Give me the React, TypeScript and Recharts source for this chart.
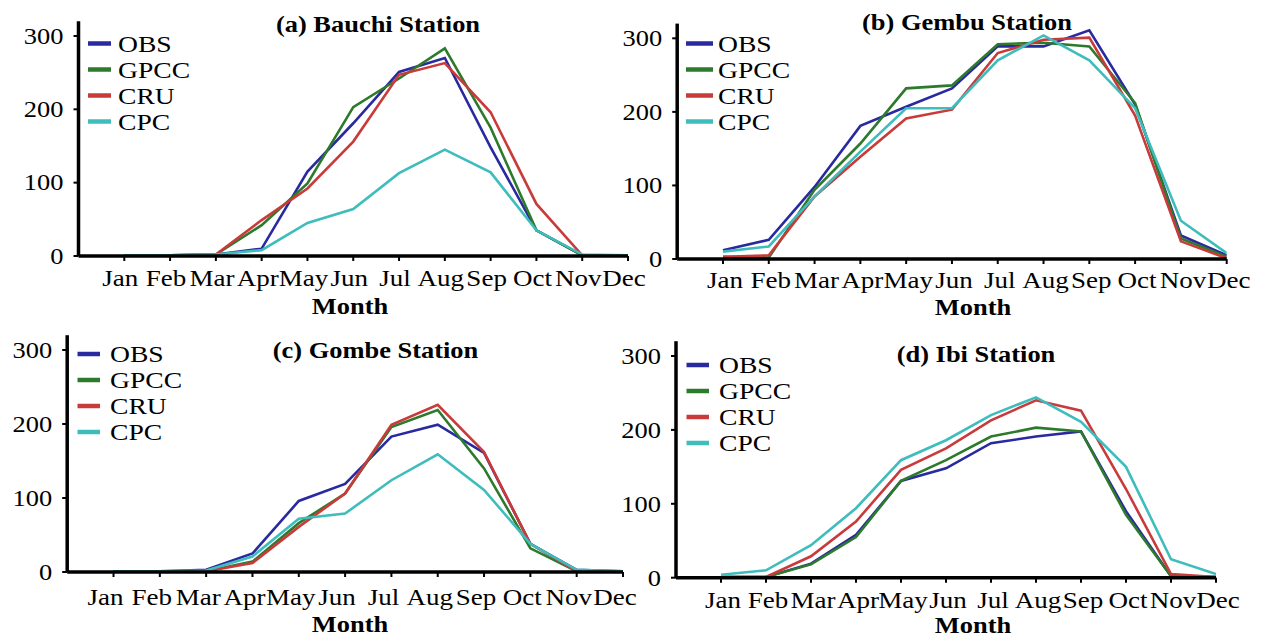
import { LineChart, Line, XAxis, YAxis } from "recharts";

// month axis
const months = ["Jan", "Feb", "Mar", "Apr", "May", "Jun", "Jul", "Aug", "Sep", "Oct", "Nov", "Dec"];
const monthNo = [1, 2, 3, 4, 5, 6, 7, 8, 9, 10, 11, 12];
const yTicks = [0, 100, 200, 300];
const seriesNames = ["OBS", "GPCC", "CRU", "CPC"];
const seriesColors = ["#2a2aa0", "#2d7a2d", "#c93a3a", "#3fbcbc"];

// (a) Bauchi
const bauchiObs = [1, 1, 2, 10, 115, 181, 251, 270, 148, 35, 1, 1];
const bauchiGpcc = [1, 1, 2, 42, 99, 203, 242, 283, 175, 35, 1, 1];
const bauchiCru = [1, 1, 2, 49, 92, 156, 247, 263, 196, 71, 1, 1];
const bauchiCpc = [1, 1, 2, 8, 45, 64, 113, 145, 114, 35, 2, 1];

// (b) Gembu
const gembuObs = [12, 26, 98, 181, 207, 232, 289, 289, 311, 210, 32, 5];
const gembuGpcc = [3, 2, 94, 157, 232, 236, 292, 294, 289, 212, 28, 3];
const gembuCru = [3, 5, 85, 139, 191, 203, 280, 298, 301, 195, 24, 1];
const gembuCpc = [10, 17, 85, 146, 205, 205, 270, 304, 270, 205, 52, 8];

// (c) Gombe
const gombeObs = [1, 1, 3, 25, 96, 119, 183, 199, 161, 38, 3, 1];
const gombeGpcc = [1, 1, 1, 14, 66, 106, 196, 219, 140, 32, 1, 1];
const gombeCru = [1, 1, 1, 12, 61, 106, 199, 226, 162, 38, 1, 1];
const gombeCpc = [1, 1, 2, 21, 72, 79, 124, 159, 111, 38, 3, 1];

// (d) Ibi
const ibiObs = [1, 1, 19, 58, 131, 148, 182, 191, 198, 90, 2, 1];
const ibiGpcc = [1, 1, 18, 55, 131, 159, 191, 203, 198, 85, 2, 1];
const ibiCru = [1, 1, 29, 76, 146, 175, 213, 240, 226, 120, 5, 1];
const ibiCpc = [4, 10, 44, 94, 159, 186, 220, 244, 211, 150, 25, 5];

const FONT = "'Liberation Serif', 'Times New Roman', serif";
const SX = 1.15;

function buildRows(series: number[][]) {
  return monthNo.map((m, i) => {
    const row: Record<string, number> = { m };
    seriesNames.forEach((name, k) => {
      row[name] = series[k][i];
    });
    return row;
  });
}

// boxes overlap a little so tick labels at the edges are not clipped
const panels = [
  {
    title: "(a) Bauchi Station",
    series: [bauchiObs, bauchiGpcc, bauchiCru, bauchiCpc],
    box: { left: 0, top: 0, w: 670, h: 320 },
    plot: { left: 78.5, right: 628, top: 21.3, bottom: 256 },
    labelGap: 30, labelDx: -4,
    titleAt: [378, 32], monthAt: [350, 314],
    legend: { x1: 88, x2: 111, tx: 118, y0: 43.5 },
  },
  {
    title: "(b) Gembu Station",
    series: [gembuObs, gembuGpcc, gembuCru, gembuCpc],
    box: { left: 590, top: 0, w: 673, h: 320 },
    plot: { left: 677.2, right: 1226.7, top: 23.6, bottom: 259 },
    labelGap: 29, labelDx: 2,
    titleAt: [967, 30], monthAt: [973, 315],
    legend: { x1: 686, x2: 713, tx: 718, y0: 43.5 },
  },
  {
    title: "(c) Gombe Station",
    series: [gombeObs, gombeGpcc, gombeCru, gombeCpc],
    box: { left: 0, top: 320, w: 670, h: 319 },
    plot: { left: 67.2, right: 623, top: 335.2, bottom: 572 },
    labelGap: 33, labelDx: -8,
    titleAt: [375.5, 358], monthAt: [350, 632],
    legend: { x1: 77.5, x2: 100, tx: 110, y0: 354 },
  },
  {
    title: "(d) Ibi Station",
    series: [ibiObs, ibiGpcc, ibiCru, ibiCpc],
    box: { left: 590, top: 320, w: 673, h: 319 },
    plot: { left: 676, right: 1216, top: 341.2, bottom: 577.7 },
    labelGap: 30, labelDx: 2,
    titleAt: [976, 362], monthAt: [973, 633],
    legend: { x1: 686.5, x2: 709, tx: 719, y0: 365 },
  },
];

function YTick(props: any) {
  const { x, y, payload } = props;
  return (
    <g transform={`translate(${x},${y})`}>
      <text transform={`scale(${SX},1)`} textAnchor="end" dy="0.34em" fontSize={23} fontFamily={FONT} fill="#000">
        {payload.value}
      </text>
    </g>
  );
}

function makeXTick(gap: number, dx: number) {
  return (props: any) => {
    const { x, y, payload } = props;
    return (
      <g transform={`translate(${x + dx},${y})`}>
        <text transform={`scale(${SX},1)`} textAnchor="middle" dy={gap - 5} fontSize={23.5} fontFamily={FONT} fill="#000">
          {months[payload.value - 1]}
        </text>
      </g>
    );
  };
}

function Panel({ p }: { p: (typeof panels)[number] }) {
  const rows = buildRows(p.series);
  const xAxisH = 40;
  const margin = {
    top: p.plot.top - p.box.top,
    right: p.box.left + p.box.w - p.plot.right,
    bottom: p.box.top + p.box.h - p.plot.bottom - xAxisH,
    left: 0,
  };
  return (
    <div style={{ position: "absolute", left: p.box.left, top: p.box.top, width: p.box.w, height: p.box.h }}>
      <LineChart width={p.box.w} height={p.box.h} data={rows} margin={margin}>
        <XAxis
          type="number"
          dataKey="m"
          domain={[0, 12]}
          ticks={monthNo}
          interval={0}
          allowDataOverflow
          height={xAxisH}
          axisLine={{ stroke: "#000", strokeWidth: 3.5 }}
          tickLine={{ stroke: "#000", strokeWidth: 2 }}
          tickSize={5}
          tickMargin={0}
          tick={makeXTick(p.labelGap, p.labelDx)}
        />
        <YAxis
          type="number"
          domain={[0, 320]}
          ticks={yTicks}
          interval={0}
          allowDataOverflow
          width={p.plot.left - p.box.left}
          axisLine={{ stroke: "#000", strokeWidth: 3.5 }}
          tickLine={{ stroke: "#000", strokeWidth: 2 }}
          tickSize={5}
          tickMargin={10}
          tick={<YTick />}
        />
        {seriesNames.map((name, k) => (
          <Line
            key={name}
            type="linear"
            dataKey={name}
            stroke={seriesColors[k]}
            strokeWidth={2.6}
            dot={false}
            activeDot={false}
            isAnimationActive={false}
          />
        ))}
      </LineChart>
    </div>
  );
}

export default function App() {
  return (
    <div style={{ position: "absolute", left: 0, top: 0, width: 1263, height: 639, background: "#fff", overflow: "hidden" }}>
      {panels.map((p) => (
        <Panel key={p.title} p={p} />
      ))}
      <svg width={1263} height={639} style={{ position: "absolute", left: 0, top: 0, pointerEvents: "none" }}>
        {panels.map((p) => (
          <g key={p.title} fontFamily={FONT} fill="#000">
            <g transform={`translate(${p.titleAt[0]},${p.titleAt[1]})`}>
              <text transform={`scale(${SX},1)`} textAnchor="middle" fontSize={23} fontWeight="bold">
                {p.title}
              </text>
            </g>
            <g transform={`translate(${p.monthAt[0]},${p.monthAt[1]})`}>
              <text transform={`scale(${SX},1)`} textAnchor="middle" fontSize={23} fontWeight="bold">
                Month
              </text>
            </g>
            {seriesNames.map((name, k) => {
              const cy = p.legend.y0 + k * 26;
              return (
                <g key={name}>
                  <line x1={p.legend.x1} x2={p.legend.x2} y1={cy} y2={cy} stroke={seriesColors[k]} strokeWidth={4.5} />
                  <g transform={`translate(${p.legend.tx},${cy + 8})`}>
                    <text transform={`scale(${SX},1)`} fontSize={24}>
                      {name}
                    </text>
                  </g>
                </g>
              );
            })}
          </g>
        ))}
      </svg>
    </div>
  );
}
